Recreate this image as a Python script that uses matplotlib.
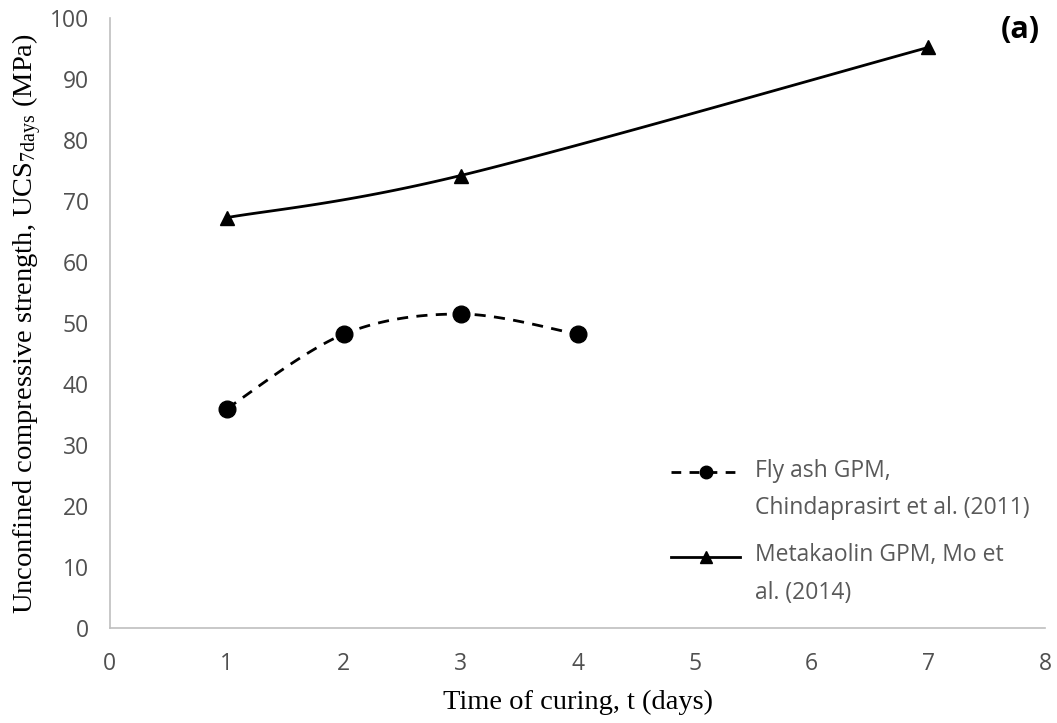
import numpy as np
import matplotlib
matplotlib.use("Agg")
import matplotlib.pyplot as plt
from matplotlib.lines import Line2D
from matplotlib.legend_handler import HandlerLine2D

# data
fly_days = [1, 2, 3, 4]
fly_ucs = [36.0, 48.2, 51.5, 48.2]
meta_days = [1, 3, 7]
meta_ucs = [67.3, 74.2, 95.2]

fly_label = "Fly ash GPM,\nChindaprasirt et al. (2011)"
meta_label = "Metakaolin GPM, Mo et\nal. (2014)"


# Excel-style smoothed line (cubic Bezier through the points)
def smooth(xs, ys, n=40):
    p = np.column_stack([xs, ys]).astype(float)
    out = []
    for i in range(len(p) - 1):
        p0 = p[i - 1] if i > 0 else p[i]
        p1, p2 = p[i], p[i + 1]
        p3 = p[i + 2] if i + 2 < len(p) else p[i + 1]
        c1 = p1 + (p2 - p0) / 6
        c2 = p2 - (p3 - p1) / 6
        t = np.linspace(0, 1, n)[:, None]
        seg = ((1 - t) ** 3) * p1 + 3 * ((1 - t) ** 2) * t * c1 + 3 * (1 - t) * t ** 2 * c2 + t ** 3 * p2
        out.append(seg if i == 0 else seg[1:])
    s = np.vstack(out)
    return s[:, 0], s[:, 1]


# legend handle sits next to the first line of a two-line label
class TopHandler(HandlerLine2D):
    def create_artists(self, legend, orig_handle, xdescent, ydescent,
                       width, height, fontsize, trans):
        return super().create_artists(legend, orig_handle, xdescent, ydescent - 26,
                                      width, height, fontsize, trans)


plt.rcParams["mathtext.default"] = "regular"

fig = plt.figure(figsize=(10.57, 7.23), dpi=100)
ax = fig.add_axes([0.104, 0.131, 0.885, 0.844])

sx, sy = smooth(fly_days, fly_ucs)
ax.plot(sx, sy, color="black", lw=2, dashes=(4, 3))
ax.plot(fly_days, fly_ucs, "o", color="black", ms=12)

sx, sy = smooth(meta_days, meta_ucs)
ax.plot(sx, sy, color="black", lw=2)
ax.plot(meta_days, meta_ucs, "^", color="black", ms=9.5)

ax.set_xlim(0, 8)
ax.set_ylim(0, 100)
ax.set_xticks(range(0, 9))
ax.set_yticks(range(0, 101, 10))
ax.tick_params(length=0, labelsize=16.5, labelcolor="#505050")
ax.tick_params(axis="x", pad=17)
ax.tick_params(axis="y", pad=15)
for lab in ax.get_xticklabels() + ax.get_yticklabels():
    lab.set_family("Open Sans")

for s in ["top", "right"]:
    ax.spines[s].set_visible(False)
for s in ["left", "bottom"]:
    ax.spines[s].set_color("#bfbfbf")
    ax.spines[s].set_linewidth(1.2)

ax.set_xlabel("Time of curing, t (days)", family="Liberation Serif", fontsize=20.5, labelpad=10)
ax.set_ylabel("Unconfined compressive strength, UCS$_{7days}$ (MPa)",
              family="Liberation Serif", fontsize=20.5, labelpad=4)

ax.text(0.994, 1.005, "(a)", transform=ax.transAxes, ha="right", va="top",
        fontsize=22, fontweight="bold", family="Open Sans")

handles = [
    Line2D([], [], color="black", lw=2, dashes=(3.5, 3), marker="o", ms=9),
    Line2D([], [], color="black", lw=2, marker="^", ms=8.5),
]
leg = ax.legend(handles, [fly_label, meta_label], loc="upper left",
                bbox_to_anchor=(0.6, 0.278), frameon=False, handlelength=3.0,
                borderpad=0, borderaxespad=0,
                prop={"family": "Open Sans", "size": 16.5}, labelspacing=1.0,
                handletextpad=0.65,
                handler_map={Line2D: TopHandler()})
for t in leg.get_texts():
    t.set_color("#595959")
    t.set_linespacing(1.75)

fig.savefig("out.png", dpi=100)
